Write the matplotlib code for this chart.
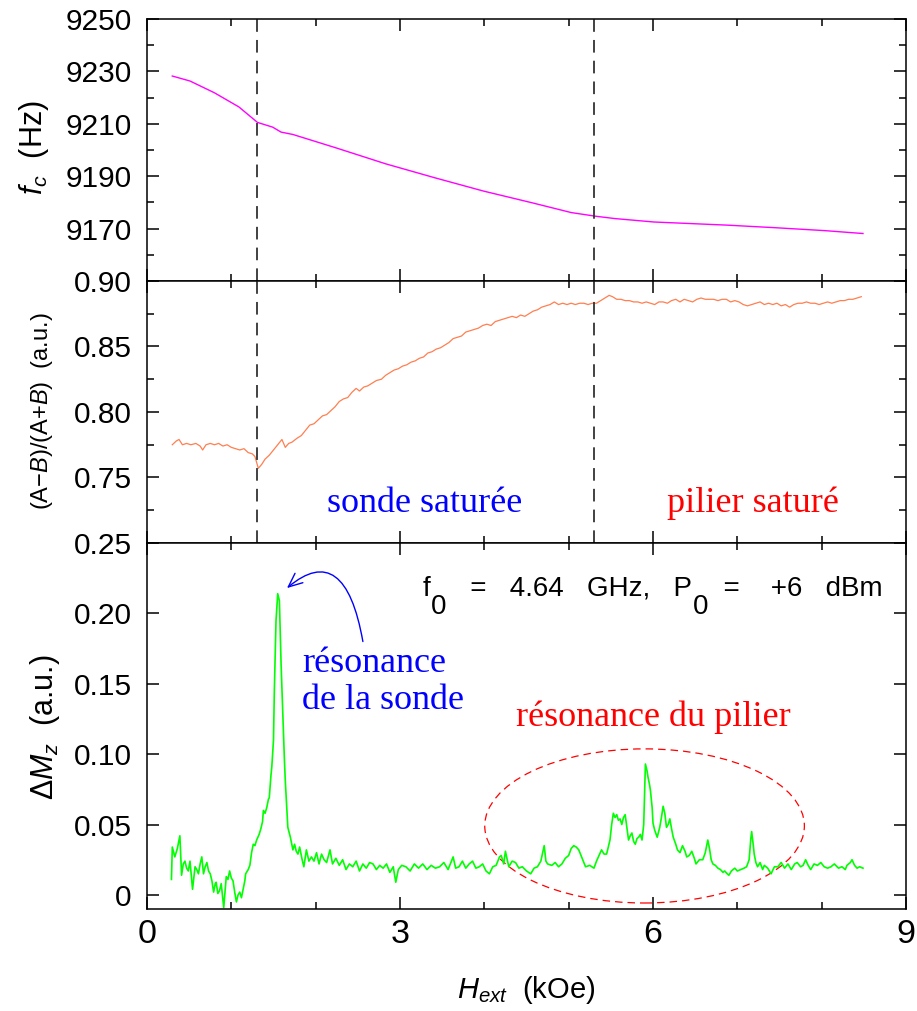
import matplotlib
matplotlib.use('Agg')
import matplotlib.pyplot as plt
from matplotlib.patches import Ellipse, FancyArrowPatch
from matplotlib.ticker import MultipleLocator, FixedLocator

plt.rcParams['font.family'] = ['Liberation Sans', 'DejaVu Sans']
plt.rcParams['mathtext.fontset'] = 'custom'
plt.rcParams['mathtext.rm'] = 'Liberation Sans'
plt.rcParams['mathtext.it'] = 'Liberation Sans:italic'
plt.rcParams['mathtext.bf'] = 'Liberation Sans:bold'
plt.rcParams['mathtext.sf'] = 'Liberation Sans'

# ---------------- data ----------------
fc_x = [0.30, 0.51, 0.80, 1.09, 1.31, 1.49, 1.59, 1.73, 2.25, 2.83, 3.41, 3.99,
        4.57, 5.03, 5.32, 5.55, 6.01, 6.88, 7.46, 8.04, 8.49]
fc_y = [9228.2, 9226.3, 9221.8, 9216.4, 9210.5, 9208.7, 9206.8, 9205.9, 9200.7,
        9194.7, 9189.4, 9184.3, 9179.8, 9176.1, 9174.7, 9173.8, 9172.5, 9171.3,
        9170.3, 9169.2, 9168.1]

ratio_x = [0.30, 0.35, 0.38, 0.42, 0.47, 0.52, 0.58, 0.63, 0.66, 0.70, 0.75, 0.80,
           0.85, 0.90, 0.95, 1.00, 1.05, 1.10, 1.15, 1.20, 1.25, 1.28, 1.32, 1.36,
           1.40, 1.45, 1.50, 1.55, 1.60, 1.64, 1.68, 1.72, 1.78, 1.83, 1.88, 1.93,
           1.98, 2.03, 2.08, 2.13, 2.18, 2.23, 2.28, 2.33, 2.38, 2.43, 2.48, 2.52,
           2.57, 2.62, 2.67, 2.72, 2.78, 2.83, 2.88, 2.93, 2.98, 3.03, 3.08, 3.13,
           3.18, 3.23, 3.28, 3.33, 3.38, 3.43, 3.48, 3.53, 3.58, 3.63, 3.68, 3.73,
           3.78, 3.83, 3.88, 3.93, 3.98, 4.03, 4.08, 4.13, 4.18, 4.23, 4.28, 4.33,
           4.38, 4.43, 4.48, 4.53, 4.58, 4.63, 4.68, 4.73, 4.78, 4.83, 4.88, 4.93,
           4.98, 5.03, 5.08, 5.13, 5.18, 5.23, 5.28, 5.33, 5.38, 5.43, 5.48, 5.52,
           5.57, 5.62, 5.67, 5.72, 5.77, 5.82, 5.87, 5.92, 5.97, 6.02, 6.07, 6.12,
           6.17, 6.22, 6.27, 6.32, 6.37, 6.42, 6.47, 6.52, 6.57, 6.62, 6.67, 6.72,
           6.77, 6.82, 6.87, 6.92, 6.97, 7.02, 7.07, 7.12, 7.17, 7.22, 7.27, 7.32,
           7.37, 7.42, 7.47, 7.52, 7.57, 7.62, 7.67, 7.72, 7.77, 7.82, 7.87, 7.92,
           7.97, 8.02, 8.07, 8.12, 8.17, 8.22, 8.27, 8.32, 8.37, 8.42, 8.47]
ratio_y = [0.775, 0.778, 0.779, 0.775, 0.776, 0.775, 0.776, 0.774, 0.771, 0.775, 0.776, 0.775,
           0.776, 0.774, 0.775, 0.773, 0.772, 0.771, 0.772, 0.769, 0.768, 0.766, 0.757, 0.760,
           0.764, 0.767, 0.771, 0.775, 0.779, 0.773, 0.776, 0.777, 0.780, 0.782, 0.786, 0.790,
           0.791, 0.794, 0.797, 0.798, 0.801, 0.804, 0.808, 0.810, 0.811, 0.815, 0.818, 0.816,
           0.819, 0.820, 0.822, 0.824, 0.825, 0.828, 0.830, 0.832, 0.833, 0.835, 0.836, 0.838,
           0.839, 0.841, 0.842, 0.845, 0.846, 0.848, 0.849, 0.851, 0.853, 0.856, 0.857, 0.858,
           0.861, 0.862, 0.863, 0.864, 0.866, 0.867, 0.866, 0.869, 0.870, 0.871, 0.872, 0.873,
           0.872, 0.874, 0.873, 0.875, 0.877, 0.878, 0.880, 0.881, 0.882, 0.884, 0.882, 0.883,
           0.882, 0.883, 0.882, 0.883, 0.883, 0.882, 0.883, 0.883, 0.885, 0.887, 0.889, 0.888,
           0.886, 0.886, 0.885, 0.885, 0.884, 0.884, 0.883, 0.884, 0.883, 0.882, 0.884, 0.884,
           0.883, 0.885, 0.886, 0.884, 0.886, 0.885, 0.884, 0.886, 0.887, 0.886, 0.886, 0.886,
           0.885, 0.886, 0.886, 0.884, 0.885, 0.884, 0.882, 0.881, 0.882, 0.883, 0.884, 0.882,
           0.883, 0.882, 0.883, 0.881, 0.882, 0.880, 0.882, 0.883, 0.883, 0.884, 0.883, 0.883,
           0.882, 0.883, 0.884, 0.883, 0.884, 0.885, 0.885, 0.886, 0.886, 0.887, 0.888]

dm_x = [0.29, 0.30, 0.33, 0.36, 0.39, 0.41, 0.43, 0.45, 0.47, 0.49, 0.51, 0.54, 0.57, 0.59,
        0.61, 0.63, 0.65, 0.67, 0.69, 0.71, 0.73, 0.75, 0.77, 0.79, 0.81, 0.82, 0.84, 0.86,
        0.88, 0.91, 0.94, 0.96, 0.98, 1.00, 1.02, 1.04, 1.06, 1.08, 1.10, 1.12, 1.14, 1.16,
        1.17, 1.20, 1.22, 1.24, 1.26, 1.28, 1.30, 1.33, 1.35, 1.37, 1.38, 1.40, 1.42, 1.44,
        1.45, 1.47, 1.48, 1.50, 1.51, 1.53, 1.55, 1.57, 1.59, 1.61, 1.63, 1.64, 1.66, 1.67,
        1.70, 1.73, 1.75, 1.77, 1.79, 1.81, 1.84, 1.86, 1.89, 1.92, 1.95, 1.98, 2.01, 2.04,
        2.07, 2.10, 2.13, 2.17, 2.20, 2.24, 2.28, 2.32, 2.36, 2.40, 2.44, 2.48, 2.52, 2.56,
        2.60, 2.64, 2.68, 2.72, 2.76, 2.80, 2.84, 2.88, 2.92, 2.95, 2.98, 3.02, 3.07, 3.12,
        3.17, 3.22, 3.27, 3.32, 3.37, 3.42, 3.47, 3.52, 3.57, 3.63, 3.66, 3.70, 3.74, 3.78,
        3.82, 3.86, 3.90, 3.94, 3.98, 4.02, 4.06, 4.10, 4.14, 4.18, 4.20, 4.23, 4.25, 4.29,
        4.33, 4.37, 4.41, 4.45, 4.50, 4.55, 4.59, 4.63, 4.67, 4.71, 4.73, 4.75, 4.80, 4.84,
        4.88, 4.92, 4.96, 5.00, 5.03, 5.06, 5.09, 5.12, 5.16, 5.20, 5.25, 5.30, 5.33, 5.36,
        5.39, 5.42, 5.45, 5.47, 5.49, 5.51, 5.53, 5.55, 5.57, 5.59, 5.61, 5.63, 5.65, 5.67,
        5.69, 5.71, 5.73, 5.75, 5.77, 5.79, 5.81, 5.83, 5.85, 5.87, 5.89, 5.91, 5.93, 5.94,
        5.96, 5.97, 5.99, 6.00, 6.02, 6.05, 6.08, 6.10, 6.12, 6.14, 6.16, 6.18, 6.20, 6.22,
        6.24, 6.27, 6.29, 6.32, 6.35, 6.38, 6.40, 6.43, 6.46, 6.49, 6.51, 6.55, 6.59, 6.62,
        6.65, 6.67, 6.69, 6.71, 6.74, 6.77, 6.80, 6.83, 6.85, 6.88, 6.90, 6.93, 6.97, 7.00,
        7.04, 7.08, 7.11, 7.14, 7.16, 7.17, 7.19, 7.20, 7.22, 7.24, 7.27, 7.30, 7.32, 7.36,
        7.40, 7.44, 7.48, 7.52, 7.56, 7.60, 7.64, 7.68, 7.71, 7.75, 7.78, 7.81, 7.84, 7.87,
        7.91, 7.95, 7.99, 8.03, 8.07, 8.11, 8.15, 8.20, 8.24, 8.28, 8.30, 8.34, 8.36, 8.39,
        8.42, 8.45, 8.49]
dm_y = [0.011, 0.034, 0.027, 0.033, 0.042, 0.014, 0.022, 0.024, 0.019, 0.017, 0.024, 0.004, 0.020, 0.018,
        0.015, 0.022, 0.027, 0.015, 0.020, 0.023, 0.017, 0.015, 0.010, 0.002, 0.008, 0.009, 0.001, 0.003,
        0.008, -0.009, 0.013, 0.011, 0.017, 0.012, 0.010, 0.002, -0.005, 0.000, 0.002, -0.002, 0.004, 0.010,
        0.015, 0.018, 0.021, 0.030, 0.036, 0.035, 0.039, 0.043, 0.047, 0.052, 0.060, 0.058, 0.062, 0.068,
        0.069, 0.085, 0.091, 0.110, 0.145, 0.195, 0.214, 0.209, 0.164, 0.129, 0.095, 0.081, 0.058, 0.048,
        0.041, 0.032, 0.036, 0.031, 0.029, 0.034, 0.025, 0.020, 0.032, 0.024, 0.027, 0.024, 0.030, 0.022,
        0.029, 0.025, 0.023, 0.032, 0.022, 0.026, 0.021, 0.025, 0.018, 0.022, 0.020, 0.024, 0.017, 0.022,
        0.019, 0.023, 0.022, 0.018, 0.021, 0.019, 0.022, 0.016, 0.020, 0.009, 0.018, 0.021, 0.020, 0.017,
        0.022, 0.019, 0.022, 0.018, 0.021, 0.019, 0.020, 0.023, 0.018, 0.027, 0.019, 0.020, 0.024, 0.019,
        0.022, 0.024, 0.019, 0.020, 0.022, 0.017, 0.015, 0.020, 0.021, 0.027, 0.028, 0.022, 0.031, 0.020,
        0.024, 0.023, 0.019, 0.020, 0.017, 0.015, 0.019, 0.020, 0.024, 0.035, 0.024, 0.022, 0.021, 0.023,
        0.020, 0.022, 0.026, 0.028, 0.033, 0.035, 0.034, 0.032, 0.026, 0.020, 0.021, 0.019, 0.024, 0.028,
        0.032, 0.029, 0.029, 0.034, 0.039, 0.050, 0.058, 0.055, 0.057, 0.053, 0.054, 0.050, 0.055, 0.057,
        0.048, 0.039, 0.042, 0.044, 0.038, 0.036, 0.040, 0.041, 0.043, 0.039, 0.050, 0.093, 0.088, 0.084,
        0.078, 0.074, 0.062, 0.051, 0.046, 0.041, 0.048, 0.055, 0.063, 0.058, 0.048, 0.050, 0.054, 0.047,
        0.041, 0.036, 0.032, 0.030, 0.035, 0.031, 0.027, 0.028, 0.031, 0.026, 0.022, 0.025, 0.025, 0.030,
        0.039, 0.033, 0.025, 0.022, 0.021, 0.019, 0.018, 0.016, 0.017, 0.015, 0.014, 0.017, 0.019, 0.017,
        0.018, 0.019, 0.020, 0.025, 0.040, 0.045, 0.035, 0.029, 0.023, 0.020, 0.023, 0.018, 0.021, 0.019,
        0.015, 0.020, 0.020, 0.023, 0.019, 0.022, 0.018, 0.022, 0.023, 0.020, 0.021, 0.025, 0.021, 0.018,
        0.022, 0.021, 0.023, 0.020, 0.019, 0.020, 0.022, 0.019, 0.020, 0.018, 0.021, 0.023, 0.025, 0.021,
        0.019, 0.020, 0.019]

vline_x = [1.3, 5.3]
x_major = [0, 3, 6, 9]
top_yticks = [9170, 9190, 9210, 9230, 9250]
mid_yticks = [0.75, 0.80, 0.85, 0.90]
bot_yticks = [0, 0.05, 0.10, 0.15, 0.20, 0.25]
bot_ylabels = ['0', '0.05', '0.10', '0.15', '0.20', '0.25']

# ---------------- figure ----------------
fig = plt.figure(figsize=(9.17, 10.11), dpi=100)
L, W = 0.1603, 0.8277
ax1 = fig.add_axes([L, 0.7221, W, 0.2592])
ax2 = fig.add_axes([L, 0.4629, W, 0.2592])
ax3 = fig.add_axes([L, 0.1009, W, 0.3620])

for ax in (ax1, ax2, ax3):
    ax.set_xlim(0, 9)
    ax.xaxis.set_major_locator(FixedLocator(x_major))
    ax.xaxis.set_minor_locator(MultipleLocator(1))
    ax.tick_params(which='both', direction='in', top=True, right=True,
                   width=1.1, colors='black')
    ax.tick_params(which='major', length=8.6)
    ax.tick_params(which='minor', length=5)
    ax.tick_params(axis='y', labelsize=21.5, pad=11)
    ax.tick_params(axis='x', labelsize=24.5, pad=7)
    for s in ax.spines.values():
        s.set_linewidth(1.1)

ax1.tick_params(labelbottom=False)
ax2.tick_params(labelbottom=False)

# top panel
ax1.plot(fc_x, fc_y, color='#ff00ff', lw=1.0)
ax1.set_ylim(9150, 9250)
ax1.set_yticks(top_yticks)
ax1.yaxis.set_minor_locator(MultipleLocator(10))

# middle panel
ax2.plot(ratio_x, ratio_y, color='#ff7f50', lw=0.9)
ax2.set_ylim(0.70, 0.90)
ax2.set_yticks(mid_yticks)
ax2.set_yticklabels(['%.2f' % v for v in mid_yticks])
ax2.yaxis.set_minor_locator(MultipleLocator(0.025))

for ax in (ax1, ax2):
    for xv in vline_x:
        ax.axvline(xv, color='#333333', lw=1.3, ls=(0, (7, 4.5)))

ax2.text(3.29, 0.7239, 'sonde saturée', family='Liberation Serif', fontsize=26,
         color='#0000ff', ha='center', va='baseline')
ax2.text(7.19, 0.7239, 'pilier saturé', family='Liberation Serif', fontsize=26,
         color='#ff0000', ha='center', va='baseline')

# bottom panel
ax3.plot(dm_x, dm_y, color='#00ff00', lw=1.2)
ax3.set_ylim(-0.01, 0.25)
ax3.set_yticks(bot_yticks)
ax3.set_yticklabels(bot_ylabels)
ax3.set_xticklabels(['0', '3', '6', '9'])

ax3.add_patch(Ellipse((5.9, 0.049), 3.79, 0.1095, fill=False, ec='#ff0000',
                      lw=0.9, ls=(0, (6, 4))))
ax3.text(1.842, 0.1584, 'résonance', family='Liberation Serif', fontsize=26,
         color='#0000ff', ha='left', va='baseline')
ax3.text(1.842, 0.1319, 'de la sonde', family='Liberation Serif', fontsize=26,
         color='#0000ff', ha='left', va='baseline')
ax3.text(6.0, 0.1202, 'résonance du pilier', family='Liberation Serif', fontsize=26,
         color='#ff0000', ha='center', va='baseline')

arrow = FancyArrowPatch(posA=(2.56, 0.180), posB=(1.66, 0.218),
                        connectionstyle='angle3,angleA=100,angleB=40',
                        arrowstyle='->,head_length=0.5,head_width=0.22',
                        mutation_scale=20, color='#0000ff', lw=1.0,
                        shrinkA=0, shrinkB=0)
ax3.add_patch(arrow)

# annotation with lowered subscripts
fs_ann = 20
segs = [('f', 0), ('0', 1), ('   =   4.64   GHz,   P', 0), ('0', 1), ('  =    +6   dBm', 0)]
t = ax3.text(3.27, 0.2124, segs[0][0], fontsize=fs_ann, va='baseline', ha='left')
prev_sub = 0
for s, sub in segs[1:]:
    dy = (-13 if sub else 0) - (-13 if prev_sub else 0)
    t = ax3.annotate(s, xy=(1, 0), xycoords=t, xytext=(0.5 if sub else 0, dy),
                     textcoords='offset points', va='bottom', ha='left', fontsize=fs_ann)
    prev_sub = sub

# axis labels
fig.text(0.037, 0.854, r'$f_c$  (Hz)', rotation=90, ha='center', va='center', fontsize=22)
fig.text(0.046, 0.593, '(A−$B$)/(A+$B$)  (a.u.)', rotation=90, ha='center', va='center', fontsize=17)
fig.text(0.049, 0.281, r'$\Delta M_z$  (a.u.)', rotation=90, ha='center', va='center', fontsize=22)
fig.text(0.574, 0.021, r'$H_{ext}$  (kOe)', ha='center', va='center', fontsize=21)

fig.savefig('out.png', dpi=100)
